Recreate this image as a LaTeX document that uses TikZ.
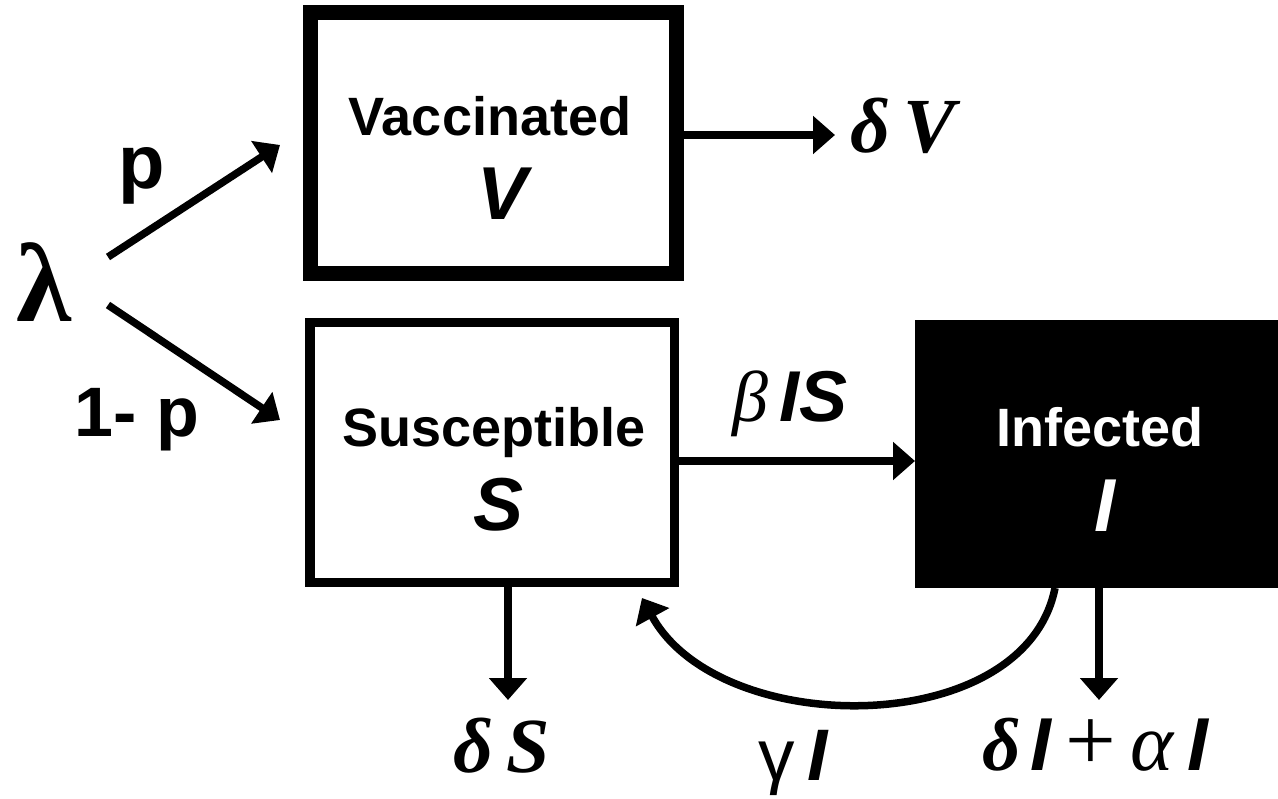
\documentclass[tikz,border=0pt]{standalone}
\usepackage{fontspec}
\setmainfont{Liberation Sans}
\newfontfamily\serif{Liberation Serif}
\usetikzlibrary{arrows.meta}

\newcommand\fsz[1]{\fontsize{#1}{#1}\selectfont}

\begin{document}
\begin{tikzpicture}[x=1pt,y=-1pt,
  arr/.style={line width=7.5pt,-{Triangle[length=22pt,width=37pt]}},
  lbl/.style={inner sep=0pt,outer sep=0pt,anchor=base},
  boxname/.style={lbl,font=\fsz{54}\bfseries},
  boxsym/.style={lbl,font=\fsz{75}\bfseries\itshape},
  rate/.style={lbl,font=\fsz{74}},
  compartment/.style={rectangle,inner sep=0pt,outer sep=0pt}
]
\useasboundingbox (0,0) rectangle (1278,799);

% compartments
\node[compartment,draw,line width=15pt,minimum width=366pt,minimum height=261pt]
  (vac) at (493,143.5) {};
\node[compartment,draw,line width=9.5pt,minimum width=364.5pt,minimum height=260pt]
  (sus) at (492,452.5) {};
\node[compartment,fill=black,minimum width=363pt,minimum height=268pt]
  (inf) at (1096.5,454) {};

% compartment labels
\node[boxname] (vacname) at (490,136) {Vaccinated};
\node[boxsym]  (vacsym)  at (503,220) {V};
\node[boxname] (susname) at (494,447) {Susceptible};
\node[boxsym]  (sussym)  at (499,530) {S};
\node[boxname,text=white] (infname) at (1100,447) {Infected};
\node[boxsym,text=white]  (infsym)  at (1105,532) {I};

% recruitment
\node[lbl,font=\fsz{112}\serif\bfseries] (lam) at (44,322) {λ};
\node[lbl,font=\fsz{76}\bfseries] (p) at (142,189) {p};
\node[lbl,font=\fsz{70}\bfseries] (q) at (137,437) {1- p};
\coordinate (lamup)  at (108,257);
\coordinate (lamdn)  at (108,305);
\coordinate (vacin)  at (280,145);
\coordinate (susin)  at (280,420);
\draw[arr] (lamup) -- (vacin);
\draw[arr] (lamdn) -- (susin);

% vaccinated death
\coordinate (vout) at (835,135);
\draw[arr] (vac.east |- vout) -- (vout);
\node[rate,font=\fsz{78}\serif\bfseries\itshape] (dV) at (903,153) {δ\,V};

% infection
\draw[arr] ([yshift=-8.5pt]sus.east) -- ([yshift=-8.5pt]sus.east -| inf.west);
\node[lbl,font=\fsz{72}] (bIS) at (790,422)
  {{\serif\itshape β}\,{\bfseries\itshape IS}};

% susceptible death
\coordinate (sdn) at (508,700);
\draw[arr] (sus.south -| sdn) -- (sdn);
\node[rate,font=\fsz{78}\serif\bfseries\itshape] (dS) at (502,772) {δ\,S};

% infected death and disease-induced death
\coordinate (idn) at (1099,700);
\draw[arr] (inf.south -| idn) -- (idn);
\node[lbl,font=\fsz{75}] (dI) at (1095,770)
  {{\serif\bfseries\itshape δ}\hspace{10pt}{\bfseries\itshape I}\hspace{14pt}{\serif\fsz{90}+}\hspace{14pt}{\serif\itshape\fsz{82}α}\hspace{14pt}{\bfseries\itshape I}};

% recovery back to susceptible
\coordinate (gst) at (1055,588);
\coordinate (gend) at (642,598);
\draw[arr] (inf.south -| gst) .. controls +(-30,152) and +(78,142) .. (gend);
\node[lbl,font=\fsz{73}] (gI) at (793,780) {γ\,{\bfseries\itshape I}};
\end{tikzpicture}
\end{document}
